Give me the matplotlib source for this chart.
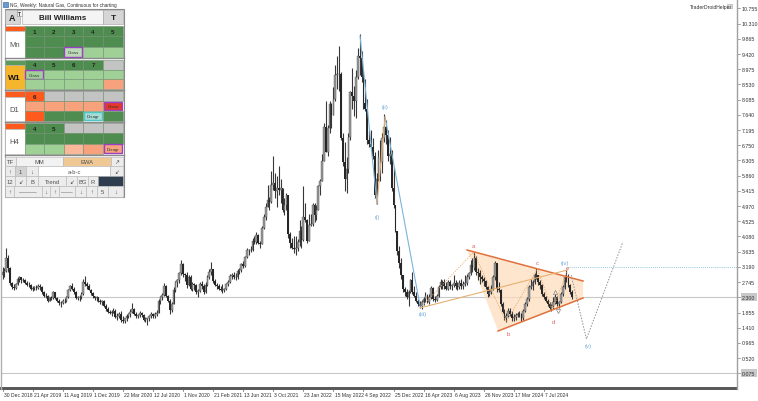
import numpy as np
import pandas as pd
import matplotlib
matplotlib.use('Agg')
import matplotlib.pyplot as plt
import matplotlib.transforms as mtrans
from matplotlib.patches import Rectangle, Polygon

plt.rcParams['font.family'] = ['Liberation Sans', 'DejaVu Sans']

# weekly bars (high, low, close), first bar opens at first_open, week 0 = 30 Dec 2018
first_open = 2.95
hlc_2019 = [
    (3.20, 2.85, 3.05), (3.15, 2.88, 3.08), (3.75, 3.05, 3.45), (3.55, 3.05, 3.15), (3.20, 2.65, 2.72),
    (2.75, 2.55, 2.60), (2.70, 2.52, 2.58), (2.72, 2.55, 2.68), (2.90, 2.65, 2.85), (2.92, 2.75, 2.88),
    (2.90, 2.72, 2.80), (2.87, 2.74, 2.80), (2.84, 2.70, 2.72), (2.78, 2.62, 2.67), (2.75, 2.60, 2.65),
    (2.68, 2.50, 2.54), (2.62, 2.48, 2.58), (2.64, 2.52, 2.60), (2.65, 2.50, 2.58), (2.68, 2.55, 2.63),
    (2.68, 2.52, 2.60), (2.62, 2.40, 2.45), (2.48, 2.30, 2.33), (2.42, 2.28, 2.35), (2.38, 2.17, 2.20),
    (2.32, 2.18, 2.30), (2.35, 2.22, 2.28), (2.48, 2.25, 2.45), (2.45, 2.25, 2.28), (2.32, 2.15, 2.18),
    (2.24, 2.08, 2.12), (2.18, 2.03, 2.12), (2.25, 2.10, 2.20), (2.28, 2.14, 2.18), (2.35, 2.15, 2.30),
    (2.55, 2.28, 2.52), (2.65, 2.48, 2.62), (2.72, 2.52, 2.55), (2.60, 2.40, 2.45), (2.48, 2.25, 2.28),
    (2.35, 2.22, 2.30), (2.38, 2.20, 2.32), (2.45, 2.24, 2.40), (2.85, 2.38, 2.75), (2.92, 2.62, 2.70),
    (2.75, 2.55, 2.62), (2.68, 2.50, 2.52), (2.55, 2.38, 2.42), (2.45, 2.28, 2.33), (2.35, 2.22, 2.28),
    (2.34, 2.20, 2.30), (2.32, 2.15, 2.18),
]
hlc_2020 = [
    (2.24, 2.10, 2.15), (2.22, 2.08, 2.20), (2.22, 2.02, 2.05), (2.10, 1.90, 1.96), (2.02, 1.85, 1.88),
    (1.94, 1.80, 1.85), (1.92, 1.76, 1.88), (1.98, 1.84, 1.90), (1.95, 1.68, 1.72), (1.85, 1.65, 1.75),
    (1.88, 1.70, 1.82), (1.90, 1.58, 1.65), (1.75, 1.55, 1.62), (1.70, 1.55, 1.68), (1.80, 1.62, 1.75),
    (1.85, 1.68, 1.80), (1.95, 1.72, 1.88), (2.12, 1.85, 1.95), (2.00, 1.78, 1.82), (1.88, 1.70, 1.75),
    (1.82, 1.68, 1.78), (1.90, 1.72, 1.85), (1.88, 1.72, 1.78), (1.82, 1.62, 1.65), (1.72, 1.58, 1.66),
    (1.70, 1.50, 1.68), (1.78, 1.62, 1.75), (1.88, 1.70, 1.80), (1.85, 1.70, 1.74), (1.86, 1.68, 1.80),
    (1.92, 1.75, 1.85), (2.25, 1.85, 2.20), (2.35, 2.10, 2.30), (2.42, 2.22, 2.38), (2.72, 2.35, 2.62),
    (2.65, 2.30, 2.35), (2.38, 2.15, 2.20), (2.25, 1.82, 1.92), (2.15, 1.88, 2.10), (2.60, 2.10, 2.52),
    (2.78, 2.45, 2.74), (2.85, 2.60, 2.80), (3.05, 2.72, 3.00), (3.38, 2.95, 3.28), (3.30, 2.90, 2.98),
    (3.02, 2.78, 2.95), (3.05, 2.58, 2.65), (2.95, 2.62, 2.88), (2.95, 2.50, 2.55), (2.75, 2.48, 2.68),
    (2.72, 2.52, 2.65), (2.68, 2.40, 2.45),
]
hlc_2021 = [
    (2.55, 2.30, 2.48), (2.75, 2.45, 2.70), (2.78, 2.55, 2.62), (2.68, 2.40, 2.45), (2.75, 2.42, 2.65),
    (2.95, 2.62, 2.90), (3.12, 2.85, 3.05), (3.33, 2.95, 3.12), (3.10, 2.72, 2.78), (2.85, 2.62, 2.65),
    (2.72, 2.55, 2.62), (2.68, 2.50, 2.55), (2.62, 2.48, 2.52), (2.68, 2.42, 2.52), (2.58, 2.45, 2.53),
    (2.72, 2.50, 2.68), (2.82, 2.62, 2.75), (2.98, 2.72, 2.92), (3.02, 2.85, 2.95), (3.05, 2.85, 2.90),
    (3.00, 2.82, 2.90), (3.12, 2.85, 3.08), (3.15, 2.98, 3.10), (3.30, 3.05, 3.28), (3.35, 3.15, 3.22),
    (3.52, 3.18, 3.48), (3.75, 3.45, 3.68), (3.72, 3.55, 3.68), (3.80, 3.62, 3.68), (4.05, 3.65, 3.95),
    (4.10, 3.85, 3.92), (4.20, 3.85, 4.12), (4.15, 3.85, 3.88), (3.95, 3.75, 3.85), (4.40, 3.85, 4.32),
    (4.75, 4.30, 4.65), (5.05, 4.55, 4.95), (5.60, 4.95, 5.15), (5.25, 4.85, 5.10), (6.00, 5.05, 5.60),
    (6.45, 5.45, 5.65), (5.95, 5.20, 5.40), (5.85, 4.95, 5.50), (6.15, 5.30, 5.45), (5.75, 5.05, 5.50),
    (5.50, 4.80, 4.85), (5.20, 4.70, 5.00), (5.35, 4.85, 5.30), (5.28, 4.05, 4.15), (4.20, 3.75, 3.90),
    (4.05, 3.72, 3.75), (4.10, 3.60, 3.72),
]
hlc_2022 = [
    (4.10, 3.55, 3.73), (4.00, 3.65, 3.92), (4.55, 3.80, 4.25), (4.40, 3.75, 3.99), (5.55, 3.95, 4.65),
    (5.05, 4.50, 4.57), (4.60, 3.90, 3.95), (4.75, 3.95, 4.42), (4.75, 4.40, 4.45), (5.05, 4.40, 5.00),
    (5.05, 4.50, 4.72), (5.00, 4.55, 4.85), (5.60, 4.85, 5.55), (5.75, 5.30, 5.70), (6.50, 5.70, 6.28),
    (7.40, 6.30, 7.30), (8.05, 6.55, 6.55), (7.35, 6.45, 7.25), (8.05, 7.10, 7.95), (8.00, 7.25, 7.65),
    (8.45, 7.65, 8.10), (9.10, 8.05, 8.80), (9.35, 8.40, 8.85), (9.66, 8.35, 8.85), (8.90, 6.90, 6.95),
    (7.10, 6.15, 6.25), (6.85, 5.40, 5.75), (6.40, 5.35, 6.05), (7.10, 5.95, 7.00), (8.35, 6.90, 8.30),
    (9.00, 7.80, 8.20), (8.50, 7.60, 8.05), (8.95, 7.55, 8.75), (9.60, 8.70, 9.35), (10.00, 8.80, 9.30),
    (9.50, 8.60, 8.75), (8.95, 7.80, 8.00), (8.70, 7.75, 7.80), (8.10, 6.80, 6.90), (7.20, 6.70, 6.78),
    (7.20, 6.60, 6.70), (6.95, 6.35, 6.45), (6.55, 5.20, 5.30), (5.95, 5.03, 5.75), (6.60, 5.70, 6.40),
    (6.90, 5.70, 6.25), (7.10, 5.95, 6.95), (7.67, 6.85, 7.30), (7.50, 6.80, 7.05), (7.20, 6.30, 6.45),
    (7.00, 6.20, 6.50), (6.60, 5.40, 5.50),
]
hlc_2023 = [
    (6.10, 4.90, 5.00), (5.00, 4.20, 4.25), (4.25, 3.55, 3.65), (3.80, 3.15, 3.30), (3.45, 2.85, 2.95),
    (2.95, 2.45, 2.55), (2.60, 2.35, 2.45), (2.55, 2.25, 2.30), (2.50, 2.05, 2.45), (2.85, 2.42, 2.80),
    (3.05, 2.40, 2.45), (2.62, 2.30, 2.35), (2.45, 2.15, 2.20), (2.25, 2.05, 2.10), (2.20, 2.00, 2.05),
    (2.22, 1.96, 2.15), (2.30, 2.08, 2.25), (2.45, 2.15, 2.35), (2.40, 2.12, 2.15), (2.40, 2.10, 2.30),
    (2.62, 2.25, 2.58), (2.60, 2.20, 2.25), (2.35, 2.15, 2.22), (2.40, 2.20, 2.35), (2.65, 2.30, 2.60),
    (2.85, 2.55, 2.75), (2.82, 2.55, 2.75), (2.85, 2.55, 2.62), (2.75, 2.50, 2.55), (2.80, 2.50, 2.75),
    (2.80, 2.55, 2.62), (2.70, 2.50, 2.65), (2.95, 2.60, 2.72), (2.82, 2.55, 2.62), (2.75, 2.50, 2.60),
    (2.80, 2.55, 2.72), (2.85, 2.55, 2.62), (2.78, 2.55, 2.68), (2.95, 2.62, 2.72), (2.98, 2.65, 2.90),
    (3.05, 2.85, 3.00), (3.40, 2.95, 3.25), (3.45, 3.05, 3.15), (3.62, 3.10, 3.45), (3.50, 2.95, 3.05),
    (3.15, 2.80, 3.00), (3.10, 2.70, 2.90), (2.95, 2.75, 2.85), (2.90, 2.62, 2.78), (2.80, 2.55, 2.60),
    (2.62, 2.30, 2.40), (2.55, 2.35, 2.45),
]
hlc_2024 = [
    (2.65, 2.40, 2.55), (2.95, 2.50, 2.90), (3.36, 2.80, 3.30), (3.30, 2.45, 2.55), (2.75, 2.45, 2.50),
    (2.55, 2.05, 2.10), (2.15, 1.85, 1.88), (1.95, 1.65, 1.70), (1.85, 1.58, 1.75), (2.00, 1.72, 1.90),
    (2.00, 1.75, 1.82), (1.90, 1.62, 1.70), (1.80, 1.62, 1.72), (1.85, 1.65, 1.78), (1.88, 1.72, 1.80),
    (1.90, 1.72, 1.82), (1.85, 1.62, 1.70), (1.95, 1.65, 1.90), (2.15, 1.88, 2.10), (2.30, 2.05, 2.25),
    (2.65, 2.20, 2.60), (2.85, 2.55, 2.62), (2.80, 2.50, 2.75), (3.00, 2.70, 2.95), (3.16, 2.85, 2.95),
    (2.95, 2.65, 2.75), (2.80, 2.55, 2.65), (2.70, 2.35, 2.40), (2.45, 2.25, 2.30), (2.35, 2.15, 2.20),
    (2.25, 2.05, 2.10), (2.15, 1.95, 2.00), (2.10, 1.90, 2.05), (2.30, 1.95, 2.15), (2.40, 2.10, 2.30),
    (2.35, 2.05, 2.10), (2.20, 2.00, 2.15), (2.45, 2.12, 2.40), (2.65, 2.35, 2.60), (2.95, 2.55, 2.90),
    (3.10, 2.75, 2.85), (2.98, 2.60, 2.65), (2.70, 2.40, 2.45), (2.50, 2.25, 2.30),
]

start_date = pd.Timestamp('2018-12-30')
date_labels = ['30 Dec 2018', '21 Apr 2019', '11 Aug 2019', '1 Dec 2019', '22 Mar 2020',
               '12 Jul 2020', '1 Nov 2020', '21 Feb 2021', '13 Jun 2021', '3 Oct 2021',
               '23 Jan 2022', '15 May 2022', '4 Sep 2022', '25 Dec 2022', '16 Apr 2023',
               '6 Aug 2023', '26 Nov 2023', '17 Mar 2024', '7 Jul 2024']
price_ticks = [10.755, 10.310, 9.865, 9.420, 8.975, 8.530, 8.085, 7.640, 7.195, 6.750,
               6.305, 5.860, 5.415, 4.970, 4.525, 4.080, 3.635, 3.190, 2.745, 2.300,
               1.855, 1.410, 0.965, 0.520, 0.075]
bid_price = 2.300
low_line = 0.075
level_line = 3.190

# elliott wave points (week index, price)
wave_w = [190.2, 199.2, 203.5, 222.3, 300.5]
wave_p = [9.95, 5.03, 7.58, 1.99, 3.10]
proj_w = [302.5, 310.6, 330.0]
proj_p = [2.95, 1.08, 3.92]
# triangle a-b-c-d-e
tri_w = [247.1, 308.8, 308.8, 263.6]
tri_p = [3.685, 2.777, 2.279, 1.313]
abc_w = [222.3, 250.5, 268.0, 284.5, 292.5, 300.5]
abc_p = [1.99, 3.62, 1.58, 3.14, 1.92, 3.08]

W, H = 758, 402
fig = plt.figure(figsize=(W / 100, H / 100), dpi=100)
fig.patch.set_facecolor('white')

ax = fig.add_axes([2 / W, 1 - 389 / H, 735 / W, 387 / H])
ax.set_xlim(-0.27, 390.7)
ax.set_ylim(-0.355, 10.974)
for s in ax.spines.values():
    s.set_visible(False)
ax.set_xticks([])
ax.set_yticks([])

bars = np.array(hlc_2019 + hlc_2020 + hlc_2021 + hlc_2022 + hlc_2023 + hlc_2024)
high, low, close = bars[:, 0], bars[:, 1], bars[:, 2]
opens = np.r_[first_open, close[:-1]]
wk = np.arange(len(close))

ax.axhline(bid_price, color='#c8c8c8', lw=0.8, zorder=1)
ax.axhline(low_line, color='#c8c8c8', lw=0.8, zorder=1)

ax.vlines(wk, low, high, color='#383838', lw=0.8, zorder=3)
up = close >= opens
ax.bar(wk[up], close[up] - opens[up], bottom=opens[up], width=0.9,
       color='#9a9a9a', edgecolor='#404040', lw=0.25, zorder=4)
ax.bar(wk[~up], opens[~up] - close[~up], bottom=close[~up], width=0.9,
       color='#262626', edgecolor='none', zorder=4)

# triangle
ax.add_patch(Polygon(list(zip(tri_w, tri_p)), closed=True, facecolor='#fddcb8',
                     alpha=0.7, edgecolor='none', zorder=2))
ax.plot(tri_w[:2], tri_p[:2], color='#e0703c', lw=1.1, zorder=5)
ax.plot(tri_w[2:], tri_p[2:], color='#e0703c', lw=1.1, zorder=5)
ax.plot(abc_w, abc_p, color='#e8a86a', lw=0.6, ls=(0, (1.5, 1.5)), zorder=5)
for name, w, p in zip('abcde', [250.3, 268.9, 284.3, 292.8, 300.3], [3.83, 1.23, 3.31, 1.58, 3.17]):
    ax.text(w, p, name, color='#e06060', fontsize=4.3, ha='center', va='center', zorder=6)

# waves
ax.plot(wave_w[0:2], wave_p[0:2], color='#7ab4da', lw=0.8, zorder=5)
ax.plot(wave_w[2:4], wave_p[2:4], color='#7ab4da', lw=0.8, zorder=5)
ax.plot(wave_w[1:3], wave_p[1:3], color='#e8b070', lw=0.8, zorder=5)
ax.plot(wave_w[3:5], wave_p[3:5], color='#e8b070', lw=0.8, zorder=5)
ax.plot(proj_w, proj_p, color='#909090', lw=0.7, ls=(0, (1.5, 1.5)), zorder=5)
for lbl, w, p in zip(['(i)', '(ii)', '(iii)', '(iv)', '(v)'],
                     [199.2, 203.5, 223.7, 299.2, 311.4], [4.68, 7.90, 1.82, 3.31, 0.88]):
    ax.text(w, p, lbl, color='#6fa8d6', fontsize=4.3, ha='center', va='center', zorder=6)
ax.hlines(level_line, 300.5, 390.7, color='#6fb3d9', lw=0.6, ls=(0, (1, 1.5)), zorder=5)
ax.plot(293.9, 2.46, marker='^', mfc='none', mec='#888888', ms=3, mew=0.5, zorder=6)
ax.plot(295.5, 1.90, marker='v', mfc='none', mec='#888888', ms=3, mew=0.5, zorder=6)

# price scale
ty = mtrans.blended_transform_factory(ax.transAxes, ax.transData)
for v in price_ticks:
    ax.plot([1.0, 1.0 + 3 / 735], [v, v], color='#808080', lw=0.5, transform=ty, clip_on=False)
    kw = {}
    if v in (bid_price, low_line):
        kw['bbox'] = dict(boxstyle='square,pad=0.25', fc='#c8c8c8', ec='none')
    ax.text(1.0 + 5 / 735, v, f'{v:.3f}', transform=ty, fontsize=3.8, va='center',
            ha='left', color='#303030', clip_on=False, **kw)

# time scale
tx = mtrans.blended_transform_factory(ax.transData, ax.transAxes)
for lbl in date_labels:
    w = (pd.Timestamp(lbl) - start_date).days / 7
    ax.plot([w, w], [0, -3 / 387], color='#606060', lw=0.5, transform=tx, clip_on=False)
    ax.text(w + 0.6, -6.5 / 387, lbl, transform=tx, fontsize=3.6, va='center', ha='left',
            color='#303030', clip_on=False)

# overlay in pixel units: frame, title, Bill Williams panel
ov = fig.add_axes([0, 0, 1, 1], zorder=10)
ov.set_xlim(0, W)
ov.set_ylim(H, 0)
ov.axis('off')
ov.plot([737, 737], [0, 390], color='#a0a0a0', lw=1.0)
ov.plot([1, 1], [0, 390], color='#b0b0b0', lw=1.0)
ov.add_patch(Rectangle((0, 388.3), 737, 2.6, fc='#5a5a5a', ec='none'))
ov.add_patch(Rectangle((2.5, 3), 5, 5, fc='#6a9ad0', ec='#2a5a90', lw=0.4))
ov.text(10, 5.8, 'NG, Weekly: Natural Gas, Continuous for charting', fontsize=3.4,
        color='#303030', va='center', ha='left')
ov.text(690, 7, 'TraderDroidHelper', fontsize=3.6, color='#303030', va='center', ha='left')
ov.add_patch(Rectangle((727, 4.5), 5, 4, fc='#d8d8d8', ec='#a8a8a8', lw=0.4))


def cell(x0, x1, y0, y1, fc, text='', ec='#6f8f6f', lw=0.4, fs=4.0, bold=False, tc='#202020'):
    ov.add_patch(Rectangle((x0, y0), x1 - x0, y1 - y0, fc=fc, ec=ec, lw=lw))
    if text:
        ov.text((x0 + x1) / 2, (y0 + y1) / 2 + 0.3, text, fontsize=fs, ha='center', va='center',
                color=tc, fontweight='bold' if bold else 'normal')


G, L, S, R, Y = '#4f8c4f', '#9fd197', '#f7a27c', '#ff5a1e', '#c3c3c3'
PUR, TEAL = '#9b3fc4', '#4fc6c6'

ov.add_patch(Rectangle((4.5, 10), 119, 188, fc='white', ec='#8a8a8a', lw=0.8))
cell(5, 20, 11, 25, '#d6d6d6', 'A', ec='#a0a0a0', fs=6.5, bold=True)
cell(16.5, 22, 11, 16.5, '#f4f4f4', 'T', ec='#808080', fs=3.3, bold=True)
cell(22, 103, 11, 25, '#f4f4f4', 'Bill Williams', ec='#a0a0a0', fs=5.8, bold=True)
cell(103, 123, 11, 25, '#d6d6d6', 'T', ec='#a0a0a0', fs=6.0, bold=True)

cols = [24.5, 44, 63.5, 83, 103, 123]
blocks = [
    ('Mn', 'white', R, [26.5, 37, 47.5, 58.5],
     [[(G, '1'), (G, '2'), (G, '3'), (G, '4'), (G, '5')],
      [(G, ''), (G, ''), (G, ''), (G, ''), (G, '')],
      [(G, ''), (G, ''), ('#bcd9b8', 'Cross', PUR), (L, ''), (L, '')]]),
    ('W1', '#f5b52c', '#5a9a5a', [60.5, 70.5, 80.3, 90],
     [[(G, '4'), (G, '5'), (G, '6'), (G, '7'), (Y, '')],
      [(L, 'Cross', PUR), (L, ''), (L, ''), (L, ''), (L, '')],
      [(L, ''), (L, ''), (L, ''), (L, ''), (S, '')]]),
    ('D1', 'white', R, [92, 102, 112, 122],
     [[(R, '6'), (Y, ''), (Y, ''), (Y, ''), (Y, '')],
      [(S, ''), (S, ''), (S, ''), (S, ''), ('#e3382b', 'Cross', PUR)],
      [(R, ''), (G, ''), (G, ''), ('#a6dcd6', 'Disagr', TEAL), (G, '')]]),
    ('H4', 'white', R, [124, 134, 144.5, 155],
     [[(G, '4'), (G, '5'), (Y, ''), (Y, ''), (Y, '')],
      [(G, ''), (G, ''), (G, ''), (G, ''), (G, '')],
      [(L, ''), (L, ''), ('#f9b89a', ''), (S, ''), (S, 'Disagr', PUR)]]),
]
for name, lbg, strip, ys, rows in blocks:
    cell(5, 24.5, ys[0], ys[0] + 5.5, strip, ec='#b0b0b0')
    cell(5, 24.5, ys[0] + 5.5, ys[3], lbg, name, ec='#b0b0b0', fs=6.0 if name == 'W1' else 5.5,
         bold=(name == 'W1'), tc='#101010' if name == 'W1' else '#505050')
    for r, row in enumerate(rows):
        for c, spec in enumerate(row):
            fc, txt = spec[0], spec[1]
            if len(spec) == 3:
                cell(cols[c] + 0.6, cols[c + 1] - 0.6, ys[r] + 0.6, ys[r + 1] - 0.6, fc, txt,
                     ec=spec[2], lw=1.0, fs=3.2, tc='#303030')
            else:
                cell(cols[c], cols[c + 1], ys[r], ys[r + 1], fc, txt, fs=4.5, bold=True)
    ov.plot([4.5, 123.5], [ys[3] + 0.9, ys[3] + 0.9], color='#8a8a8a', lw=1.0)

TB = '#ececec'
toolbar = [
    (157.5, 167, [(5, 16, 'TF', TB), (16, 63, 'MM', '#f2f2f2'), (63, 111, 'EWA', '#f0c894'),
                  (111, 123, '\u2197', TB)]),
    (167, 177, [(5, 15, '\u2191', TB), (15, 26, '1', '#d2d2d2'), (26, 38, '\u2193', TB),
                (38, 110, 'a-b-c', 'white'), (110, 123, '\u2199', TB)]),
    (177, 187, [(5, 15, '12', TB), (15, 26, '\u2199', TB), (26, 38, 'B', TB), (38, 66, 'Trend', TB),
                (66, 77, '\u2199', TB), (77, 88, 'BG', TB), (88, 98, 'R', TB), (98, 123, '', '#2e3e4e')]),
    (187, 197.5, [(5, 14, '\u2191', TB), (14, 42, '\u2014\u2014\u2014', TB), (42, 50, '\u2193', TB),
                  (50, 59, '\u2191', TB), (59, 75, '\u2014\u2014', TB), (75, 86, '\u2193', TB),
                  (86, 97, '\u2191', TB), (97, 108, '5', TB), (108, 123, '\u2193', TB)]),
]
for y0, y1, items in toolbar:
    for x0, x1, txt, fc in items:
        cell(x0, x1, y0, y1, fc, txt, ec='#b4b4b4', fs=4.2, tc='#505050')

fig.savefig('out.png', dpi=100, facecolor='white')
